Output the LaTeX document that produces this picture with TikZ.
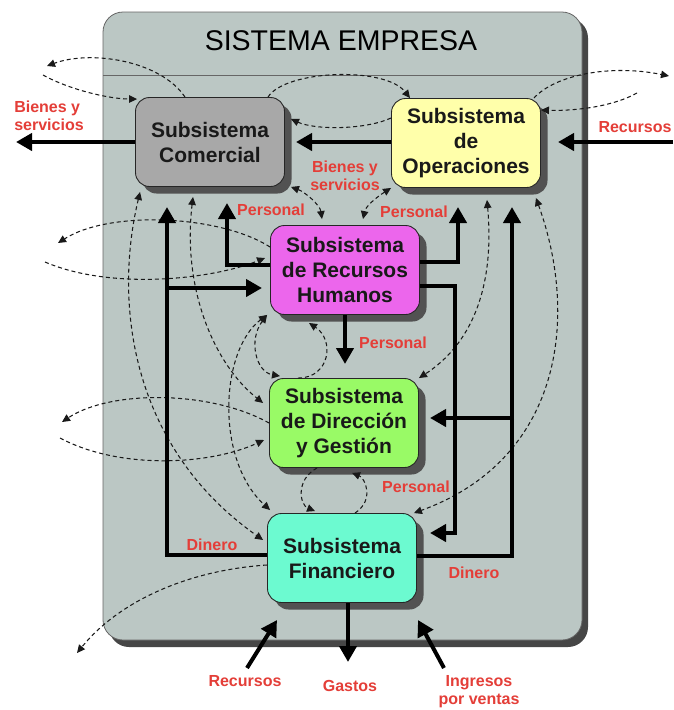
\documentclass[tikz,border=0pt]{standalone}
\usepackage{fontspec}
\setmainfont{Liberation Sans}
\usetikzlibrary{arrows.meta,shadows}

\definecolor{sysgray}{RGB}{187,199,196}
\definecolor{framegray}{RGB}{70,70,70}
\definecolor{comgray}{RGB}{168,168,168}
\definecolor{opsyel}{RGB}{255,255,170}
\definecolor{rhmag}{RGB}{236,102,236}
\definecolor{dirgrn}{RGB}{153,250,102}
\definecolor{fincyan}{RGB}{108,250,208}
\definecolor{lblred}{RGB}{228,62,56}

\begin{document}
\begin{tikzpicture}[x=1pt,y=-1pt,
  subbox/.style={draw=black!85, line width=0.9pt, rounded corners=14pt,
    minimum width=149pt, minimum height=89pt, align=center, inner sep=1pt,
    font=\fontsize{21}{25}\selectfont\bfseries, text=black!90,
    general shadow={fill=black!68, shadow xshift=7pt, shadow yshift=-7pt}},
  lbl/.style={font=\fontsize{16}{18}\selectfont\bfseries, text=lblred,
    align=center, inner sep=0pt},
  flow/.style={line width=4pt, -{Triangle[length=16pt,width=17pt]}},
  info/.style={line width=1.05pt, dash pattern=on 4pt off 3pt, black!90,
    -{Triangle[length=8pt,width=7.5pt]}},
  infob/.style={info, {Triangle[length=8pt,width=7.5pt]}-{Triangle[length=8pt,width=7.5pt]}}
]
\useasboundingbox (0,0) rectangle (673,710);
\fill[white] (0,0) rectangle (673,710);

% enterprise frame with its shadow and header
\fill[framegray, rounded corners=20pt] (109,18) rectangle (588,647);
\draw[fill=sysgray, draw=black!60, line width=0.8pt, rounded corners=20pt]
  (103,12) rectangle (582,640);
\draw[black!60, line width=1pt] (103,75) -- (582,75);
\node (title) at (341,41) {\fontsize{28.5}{30}\selectfont SISTEMA EMPRESA};

% subsystems
\node[subbox, fill=comgray] (com) at (210,142) {Subsistema\\Comercial};
\node[subbox, fill=opsyel]  (ops) at (466,143) {Subsistema\\de\\Operaciones};
\node[subbox, fill=rhmag]   (rh)  at (345,270) {Subsistema\\de Recursos\\Humanos};
\node[subbox, fill=dirgrn]  (dir) at (344,423) {Subsistema\\de Dirección\\y Gestión};
\node[subbox, fill=fincyan] (fin) at (342,558) {Subsistema\\Financiero};

% free ends of the information flows
\coordinate (xA) at (47,66);
\coordinate (xB) at (43,75);
\coordinate (xC) at (669,76);
\coordinate (xD) at (637,93);
\coordinate (xE) at (58,243);
\coordinate (xF) at (45,262);
\coordinate (xG) at (62,422);
\coordinate (xH) at (60,438);
\coordinate (xI) at (77,653);

% information flows (dashed)
\draw[info] ([xshift=-25pt]com.north) .. controls (160,60) and (90,50) .. (xA);
\draw[info] (xB) .. controls (70,90) and (110,99) .. ([xshift=2pt,yshift=-2pt]com.north west);
\draw[info] ([xshift=58pt]com.north) .. controls (285,70) and (385,66) .. ([xshift=-56pt]ops.north);
\draw[info] ([yshift=25pt]ops.west) .. controls (365,130) and (315,130) .. ([xshift=6pt,yshift=23pt]com.east);
\draw[info] ([xshift=-7pt]ops.north east) .. controls (555,75) and (610,64) .. (xC);
\draw[info] (xD) .. controls (610,108) and (570,111) .. ([yshift=-12pt]ops.north east);
\draw[infob] ([xshift=6pt]com.south east) .. controls (305,192) and (320,205) .. ([xshift=-23pt,yshift=6pt]rh.north);
\draw[infob] (ops.south west) .. controls (380,195) and (366,205) .. ([xshift=18pt,yshift=6pt]rh.north);
\draw[info] ([yshift=23pt]rh.west) .. controls (220,215) and (110,210) .. (xE);
\draw[info] (xF) .. controls (110,290) and (210,280) .. ([xshift=-5pt,yshift=12pt]rh.west);
\draw[infob] ([xshift=5pt,yshift=-5pt]com.south west) .. controls (112,310) and (135,450) .. ([xshift=-4pt,yshift=18pt]fin.west);
\draw[infob] ([xshift=-17pt,yshift=-10pt]com.south) .. controls (182,290) and (215,365) .. ([xshift=-6pt,yshift=20pt]dir.west);
\draw[infob] ([xshift=-3pt]rh.south west) .. controls (220,350) and (215,460) .. ([xshift=3pt,yshift=3pt]fin.north west);
\draw[infob] ([xshift=-3pt]rh.south west) .. controls (248,340) and (256,372) .. ([xshift=-64pt,yshift=2pt]dir.north);
\draw[info] ([xshift=-46pt]dir.north) .. controls (330,378) and (335,340) .. ([xshift=-36pt,yshift=-8pt]rh.south);
\draw[infob] ([xshift=21pt,yshift=-12pt]ops.south) .. controls (495,290) and (470,345) .. (dir.north east);
\draw[infob] ([xshift=-5pt,yshift=-10pt]ops.south east) .. controls (580,320) and (560,460) .. ([xshift=-3pt]fin.north east);
\draw[info] (dir.west) .. controls (210,390) and (110,390) .. (xG);
\draw[info] (xH) .. controls (120,470) and (210,465) .. ([xshift=-5pt,yshift=-17pt]dir.west);
\draw[info] ([yshift=-7pt]fin.west) .. controls (190,570) and (120,600) .. (xI);
\draw[info] ([xshift=-27pt]dir.south) .. controls (295,480) and (300,505) .. ([xshift=-27pt,yshift=2pt]fin.north);
\draw[info] ([xshift=13pt]fin.north) .. controls (375,500) and (365,478) .. ([xshift=8pt,yshift=-5pt]dir.south);

% routing points of the material and money flows
\coordinate (outL) at (16,142);
\coordinate (comR) at (296,142);
\coordinate (inR) at (673,142);
\coordinate (opsR) at (558,142);
\coordinate (dnL) at (167,555);
\coordinate (comTipA) at (167,207);
\coordinate (brA) at (165,288);
\coordinate (rhTipA) at (262,288);
\coordinate (pB) at (227,265);
\coordinate (comTipB) at (227,203);
\coordinate (pC) at (458,262);
\coordinate (opsTipC) at (458,207);
\coordinate (pD) at (455,286);
\coordinate (pD2) at (455,533);
\coordinate (finTipD) at (430,533);
\coordinate (pE) at (512,556);
\coordinate (opsTipE) at (512,207);
\coordinate (brE) at (514,418);
\coordinate (dirTipE) at (430,418);
\coordinate (dirTipF) at (345,364);
\coordinate (gasTip) at (348,662);
\coordinate (recS) at (247,668);
\coordinate (recT) at (277,620);
\coordinate (ingS) at (444,668);
\coordinate (ingT) at (418,620);

% material and money flows (thick)
\draw[flow] (com.west |- outL) -- (outL);
\draw[flow] (ops.west |- comR) -- (comR);
\draw[flow] (inR) -- (opsR);
\draw[flow] (fin.west |- dnL) -- (dnL) -- (comTipA);
\draw[flow] (brA) -- (rhTipA);
\draw[flow] (rh.west |- pB) -- (pB) -- (comTipB);
\draw[flow] (rh.east |- pC) -- (pC) -- (opsTipC);
\draw[flow] (rh.east |- pD) -- (pD) -- (pD2) -- (finTipD);
\draw[flow] (fin.east |- pE) -- (pE) -- (opsTipE);
\draw[flow] (brE) -- (dirTipE);
\draw[flow] (rh.south) -- (dirTipF);
\draw[flow] (fin.south -| gasTip) -- (gasTip);
\draw[flow] (recS) -- (recT);
\draw[flow] (ingS) -- (ingT);

% flow labels
\node[lbl, align=left] (lBs) at (49,116) {Bienes y\\servicios};
\node[lbl] (lRec) at (635,127) {Recursos};
\node[lbl] (lBs2) at (345,176) {Bienes y\\servicios};
\node[lbl] (lP1) at (271,210) {Personal};
\node[lbl] (lP2) at (414,212) {Personal};
\node[lbl] (lP3) at (393,343) {Personal};
\node[lbl] (lP4) at (416,487) {Personal};
\node[lbl] (lD1) at (212,545) {Dinero};
\node[lbl] (lD2) at (474,573) {Dinero};
\node[lbl] (lR2) at (245,681) {Recursos};
\node[lbl] (lG) at (350,686) {Gastos};
\node[lbl] (lI) at (479,692) {Ingresos\\por ventas};
\end{tikzpicture}
\end{document}
